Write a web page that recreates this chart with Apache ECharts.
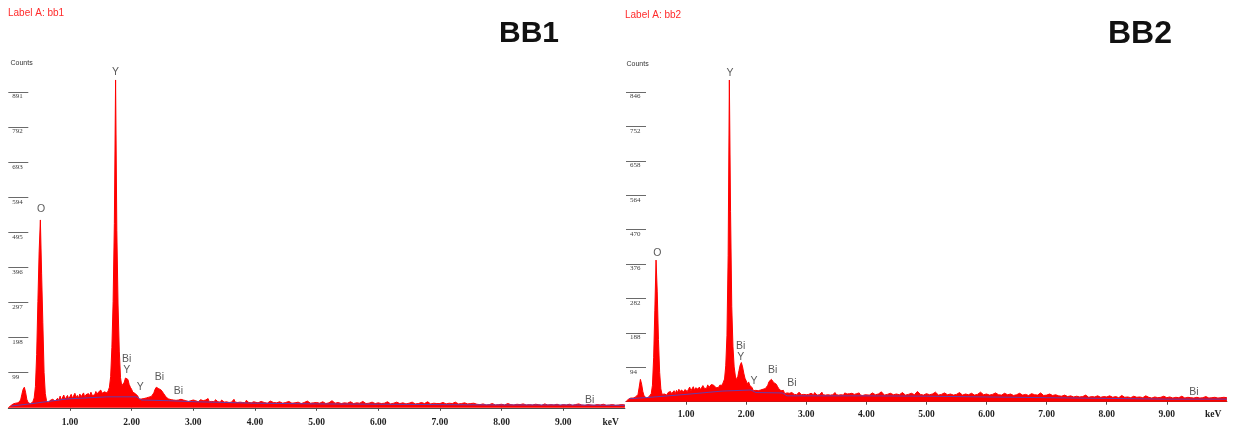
<!DOCTYPE html>
<html>
<head>
<meta charset="utf-8">
<script src="https://cdn.jsdelivr.net/npm/echarts@6/dist/echarts.min.js"></script>
<style>
  html, body { margin: 0; padding: 0; background: #ffffff; }
  #chart { width: 1237px; height: 430px; }
</style>
</head>
<body>
<div id="chart"></div>
<script>
// EDS spectra of samples bb1 and bb2 (counts per channel vs. energy in keV)
// Channels 0.00-3.98 keV are 0.02 keV wide, channels 4.00-10.00 keV are 0.05 keV wide.
const LOW_STEP_KEV = 0.02;
const HIGH_START_KEV = 4.0;
const HIGH_STEP_KEV = 0.05;

const bb1CountsLow = [
  0, 3, 6, 9, 11,        12, 13, 12, 14, 15,
  22, 38, 52, 58, 44,    24, 15, 12, 11, 13,
  18, 28, 60, 150, 300,  440, 530, 380, 240, 100,
  40, 20, 14, 17, 21,    18, 24, 28, 19, 23,
  27, 20, 33, 22, 26,    36, 24, 29, 35, 25,
  30, 38, 27, 32, 41,    29, 35, 28, 39, 31,
  36, 42, 30, 37, 33,    40, 34, 44, 35, 39,
  36, 46, 38, 44, 48,    50, 41, 39, 45, 47,
  42, 48, 58, 88, 170,   300, 520, 925, 500, 290,
  160, 85, 62, 60, 72,   84, 88, 80, 66, 58,
  52, 44, 49, 40, 42,    33, 24, 21, 25, 20,
  26, 22, 28, 23, 30,    25, 32, 36, 42, 52,
  58, 61, 54, 57, 50,    46, 40, 35, 30, 27,
  25, 30, 23, 27, 22,    26, 21, 25, 22, 20,
  24, 19, 22, 26, 20,    21, 18, 23, 20, 19,
  22, 18, 20, 25, 17,    19, 23, 18, 20, 17,
  22, 18, 26, 17, 19,    18, 21, 17, 23, 18,
  17, 20, 16, 22, 18,    16, 21, 17, 18, 15,
  20, 16, 18, 24, 16,    17, 15, 20, 16, 18,
  15, 17, 14, 21, 16,    15, 19, 14, 16, 17
];
const bb1CountsHigh = [
  16, 14, 18, 15, 13, 19, 15, 14, 17, 13,
  15, 18, 13, 14, 16, 12, 15, 19, 13, 14,
  15, 13, 17, 12, 14, 20, 13, 15, 12, 14,
  13, 17, 12, 14, 13, 18, 12, 13, 16, 12,
  14, 12, 13, 17, 11, 13, 16, 12, 14, 11,
  13, 16, 11, 12, 15, 12, 17, 11, 13, 12,
  12, 15, 11, 13, 12, 16, 11, 12, 14, 11,
  12, 13, 10, 9, 11, 8, 9, 12, 8, 9,
  10, 8, 12, 9, 8, 10, 9, 11, 8, 9,
  8, 10, 9, 7, 11, 8, 9, 8, 10, 7,
  9, 8, 10, 7, 9, 11, 8, 7, 9, 8,
  7, 9, 8, 10, 7, 8, 9, 7, 8, 9,
  8
];
const bb1BackgroundKev    = [0.05, 0.35, 0.95, 1.6, 2.08, 2.16, 2.6, 3.05, 4, 5, 6, 7, 8, 9, 10];
const bb1BackgroundCounts = [5, 11, 25, 31, 31, 22, 20, 17, 13, 11, 10, 9, 8, 8, 7];

const bb2CountsLow = [
  0, 4, 7, 9, 10,        11, 10, 12, 13, 12,
  20, 40, 61, 48, 28,    16, 12, 10, 11, 13,
  15, 22, 45, 120, 250,  387, 300, 170, 80, 35,
  20, 17, 21, 24, 18,    25, 20, 28, 22, 26,
  30, 22, 31, 25, 34,    26, 32, 36, 27, 33,
  37, 28, 34, 40, 30,    35, 41, 31, 38, 43,
  34, 40, 33, 38, 44,    37, 42, 36, 46, 39,
  44, 47, 48, 45, 40,    38, 43, 39, 45, 41,
  45, 50, 62, 98, 180,   400, 879, 520, 260, 150,
  95, 70, 60, 68, 85,    100, 107, 95, 78, 64,
  57, 48, 54, 45, 44,    38, 30, 27, 31, 26,
  30, 25, 32, 27, 34,    29, 36, 40, 45, 55,
  58, 61, 56, 52, 55,    48, 42, 36, 32, 30,
  27, 31, 22, 20, 24,    19, 23, 20, 25, 21,
  20, 24, 19, 22, 26,    21, 19, 24, 20, 22,
  19, 24, 20, 18, 23,    21, 19, 25, 20, 18,
  22, 19, 21, 26, 19,    20, 18, 23, 19, 21,
  18, 22, 19, 20, 25,    19, 21, 18, 23, 19,
  20, 18, 24, 19, 21,    18, 22, 19, 23, 18,
  20, 17, 22, 19, 24,    18, 20, 17, 22, 19
];
const bb2CountsHigh = [
  20, 18, 24, 19, 21, 27, 18, 20, 23, 19,
  21, 19, 25, 18, 20, 23, 19, 28, 20, 18,
  22, 19, 21, 26, 18, 20, 24, 19, 21, 18,
  20, 25, 18, 21, 19, 23, 18, 20, 26, 19,
  21, 18, 20, 24, 19, 18, 23, 19, 21, 17,
  19, 23, 18, 20, 17, 22, 19, 18, 24, 17,
  18, 21, 17, 19, 16, 15, 18, 14, 16, 13,
  15, 13, 14, 18, 12, 14, 13, 16, 12, 14,
  13, 16, 12, 14, 11, 17, 12, 13, 11, 15,
  12, 13, 11, 16, 12, 10, 13, 11, 12, 15,
  11, 13, 10, 12, 11, 15, 10, 12, 11, 10,
  12, 10, 11, 14, 10, 11, 12, 10, 11, 12,
  11
];
const bb2BackgroundKev    = [0.05, 0.4, 1.0, 1.6, 2.08, 2.16, 2.6, 2.68, 3.0, 4, 5, 6, 7, 8, 9, 10];
const bb2BackgroundCounts = [8, 12, 20, 29, 32, 25, 24, 16, 16, 16, 15, 13, 11, 9, 7, 7];

// Element identification markers (label centre in keV / counts)
const bb1PeakNames  = ['O', 'Y', 'Bi', 'Y', 'Y', 'Bi', 'Bi', 'Bi'];
const bb1PeakKev    = [0.53, 1.74, 1.92, 1.92, 2.14, 2.45, 2.76, 9.43];
const bb1PeakCounts = [561, 947, 138, 107, 58, 88, 48, 22];

const bb2PeakNames  = ['O', 'Y', 'Bi', 'Y', 'Y', 'Bi', 'Bi', 'Bi'];
const bb2PeakKev    = [0.52, 1.73, 1.91, 1.91, 2.13, 2.44, 2.76, 9.45];
const bb2PeakCounts = [406, 898, 152, 121, 55, 85, 50, 25];

// Axis ticks
const energyTicks = [1, 2, 3, 4, 5, 6, 7, 8, 9];
const energyUnitKev = 9.77;
const bb1CountTicks = [99, 198, 297, 396, 495, 594, 693, 792, 891];
const bb2CountTicks = [94, 188, 282, 376, 470, 564, 658, 752, 846];

function channelPairs(low, high) {
  const pts = low.map((c, i) => [+(i * LOW_STEP_KEV).toFixed(2), c]);
  return pts.concat(high.map((c, i) => [+(HIGH_START_KEV + i * HIGH_STEP_KEV).toFixed(2), c]));
}
function zip(xs, ys) { return xs.map((x, i) => [x, ys[i]]); }
function peakMarkers(names, kev, counts) {
  return names.map((n, i) => ({ value: [kev[i], counts[i]], label: { formatter: n } }));
}

const RED = '#ff0000';
const BLUE = '#4a46c8';

function xAxisFor(gridIndex, offset) {
  return {
    gridIndex, type: 'value', min: 0, max: 10, offset,
    axisLine: { show: true, lineStyle: { color: '#4a4a4a', width: 1 } },
    axisTick: { show: true, length: 3, customValues: energyTicks, lineStyle: { color: '#4a4a4a' } },
    axisLabel: {
      show: true, customValues: energyTicks.concat([energyUnitKev]), margin: 7,
      fontFamily: 'Liberation Serif', fontWeight: 'bold', fontSize: 9.5, color: '#1e1e1e',
      formatter: v => (v > 9.5 ? 'keV' : v.toFixed(2))
    },
    splitLine: { show: false }
  };
}
function yAxisFor(gridIndex, ticks) {
  return {
    gridIndex, type: 'value', min: 0, max: 1000,
    axisLine: { show: false },
    splitLine: { show: false },
    axisTick: { show: true, inside: true, length: 20, customValues: ticks, lineStyle: { color: '#6a6a6a', width: 1 } },
    axisLabel: {
      show: true, inside: true, customValues: ticks, margin: 4,
      fontFamily: 'Liberation Serif', fontSize: 7, color: '#3c3c3c',
      verticalAlign: 'top', padding: [1, 0, 0, 0]
    }
  };
}
function spectrumSeries(idx, data) {
  return {
    type: 'line', xAxisIndex: idx, yAxisIndex: idx, data,
    showSymbol: false, symbol: 'none', smooth: false, silent: true,
    lineStyle: { color: RED, width: 1 },
    areaStyle: { color: RED, opacity: 1 },
    z: 2
  };
}
function backgroundSeries(idx, data) {
  return {
    type: 'line', xAxisIndex: idx, yAxisIndex: idx, data,
    showSymbol: false, symbol: 'none', silent: true,
    lineStyle: { color: BLUE, width: 1, opacity: 0.85 },
    z: 3
  };
}
function markerSeries(idx, data) {
  return {
    type: 'scatter', xAxisIndex: idx, yAxisIndex: idx, data,
    symbolSize: 1, itemStyle: { color: 'rgba(0,0,0,0)' }, silent: true,
    label: {
      show: true, position: 'inside',
      fontFamily: 'Liberation Sans', fontSize: 10.5, color: '#303030'
    },
    z: 4
  };
}

const chart = echarts.init(document.getElementById('chart'), null, { renderer: 'canvas' });

chart.setOption({
  animation: false,
  backgroundColor: '#ffffff',
  grid: [
    { left: 8.3, top: 53.4, width: 616.6, height: 354.4 },
    { left: 626, top: 35.7, width: 600.9, height: 366 }
  ],
  xAxis: [xAxisFor(0, 3), xAxisFor(1, 1)],
  yAxis: [yAxisFor(0, bb1CountTicks), yAxisFor(1, bb2CountTicks)],
  series: [
    spectrumSeries(0, channelPairs(bb1CountsLow, bb1CountsHigh)),
    backgroundSeries(0, zip(bb1BackgroundKev, bb1BackgroundCounts)),
    markerSeries(0, peakMarkers(bb1PeakNames, bb1PeakKev, bb1PeakCounts)),
    spectrumSeries(1, channelPairs(bb2CountsLow, bb2CountsHigh)),
    backgroundSeries(1, zip(bb2BackgroundKev, bb2BackgroundCounts)),
    markerSeries(1, peakMarkers(bb2PeakNames, bb2PeakKev, bb2PeakCounts))
  ],
  graphic: [
    { type: 'text', x: 8, y: 13, style: { text: 'Label A: bb1', font: '10px "Liberation Sans"', fill: '#ff2a2a', textVerticalAlign: 'middle' } },
    { type: 'text', x: 625, y: 15, style: { text: 'Label A: bb2', font: '10px "Liberation Sans"', fill: '#ff2a2a', textVerticalAlign: 'middle' } },
    { type: 'text', x: 10.5, y: 63.5, style: { text: 'Counts', font: '7px "Liberation Sans"', fill: '#333', textVerticalAlign: 'middle' } },
    { type: 'text', x: 626.5, y: 64.5, style: { text: 'Counts', font: '7px "Liberation Sans"', fill: '#333', textVerticalAlign: 'middle' } },
    { type: 'text', x: 529, y: 34, style: { text: 'BB1', font: 'bold 30px "Liberation Sans"', fill: '#111', textAlign: 'center', textVerticalAlign: 'middle' } },
    { type: 'text', x: 1140, y: 34, style: { text: 'BB2', font: 'bold 32px "Liberation Sans"', fill: '#111', textAlign: 'center', textVerticalAlign: 'middle' } }
  ]
});
</script>
</body>
</html>
